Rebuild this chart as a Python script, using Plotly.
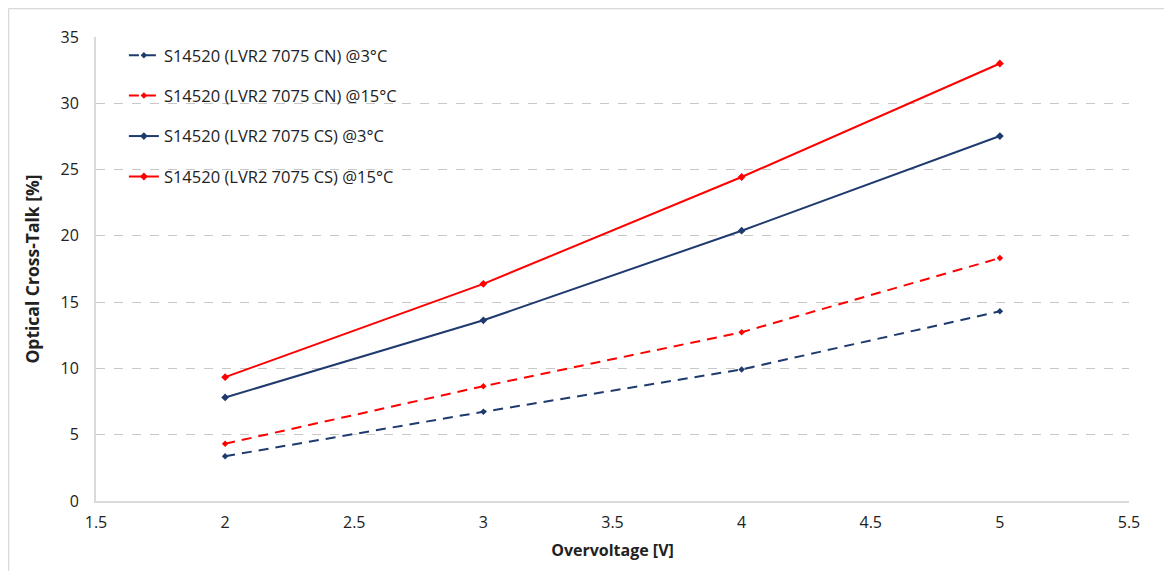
import plotly.graph_objects as go

overvoltage = [2, 3, 4, 5]
cn_3c = [3.38, 6.73, 9.92, 14.31]
cn_15c = [4.32, 8.66, 12.73, 18.33]
cs_3c = [7.81, 13.63, 20.39, 27.53]
cs_15c = [9.34, 16.38, 24.44, 33.0]

names = [
    "S14520 (LVR2 7075 CN) @3°C",
    "S14520 (LVR2 7075 CN) @15°C",
    "S14520 (LVR2 7075 CS) @3°C",
    "S14520 (LVR2 7075 CS) @15°C",
]
x_ticks = [1.5, 2, 2.5, 3, 3.5, 4, 4.5, 5, 5.5]
y_ticks = [0, 5, 10, 15, 20, 25, 30, 35]

NAVY = "#1f3a6e"
RED = "#ff0000"
FONT = "Open Sans, sans-serif"

series = [
    (cn_3c, NAVY, "10px,7px", 5),
    (cn_15c, RED, "10px,7px", 5),
    (cs_3c, NAVY, "solid", 6),
    (cs_15c, RED, "solid", 6),
]

fig = go.Figure()
for i, (vals, color, dash, msize) in enumerate(series):
    fig.add_trace(go.Scatter(
        x=overvoltage, y=vals, name=names[i], mode="lines+markers",
        line=dict(color=color, width=2, dash=dash),
        marker=dict(symbol="diamond", size=msize, color=color),
        legendgroup=f"g{i}",
    ))

L, T, W, H = 88, 29, 1033, 464
fig.update_layout(
    width=1172, height=571,
    margin=dict(l=L, r=1172 - L - W, t=T, b=571 - T - H),
    paper_bgcolor="white", plot_bgcolor="white",
    font=dict(family=FONT, color="#222222"),
    showlegend=True,
    legend=dict(
        x=0.027, y=0.998, xanchor="left", yanchor="top",
        bgcolor="rgba(0,0,0,0)", font=dict(size=16.5, family=FONT, color="#222222"),
        tracegroupgap=16, traceorder="grouped",
    ),
    xaxis=dict(
        range=[1.5, 5.5], tickvals=x_ticks, ticktext=[str(v) for v in x_ticks],
        showgrid=False, showline=True, linecolor="#d9d9d9", linewidth=2,
        ticks="", tickfont=dict(size=16, family=FONT), zeroline=False,
        ticklabelstandoff=6,
        title=dict(text="<b>Overvoltage [V]</b>", font=dict(size=16, family=FONT), standoff=13),
    ),
    yaxis=dict(
        range=[0, 35], tickvals=y_ticks,
        showgrid=True, gridcolor="#c8c8c8", griddash="dash", gridwidth=1,
        showline=True, linecolor="#d9d9d9", linewidth=2,
        ticks="", tickfont=dict(size=16, family=FONT), zeroline=False,
        ticklabelstandoff=12,
        title=dict(text="<b>Optical Cross-Talk [%]</b>", font=dict(size=17.5, family=FONT), standoff=16),
    ),
    shapes=[
        dict(type="line", xref="paper", yref="paper",
             x0=(0.5 - L) / W, x1=(1172 - L) / W,
             y0=1 + (T - 0.5) / H, y1=1 + (T - 0.5) / H,
             line=dict(color="#d9d9d9", width=1.5)),
        dict(type="line", xref="paper", yref="paper",
             x0=(0.5 - L) / W, x1=(0.5 - L) / W,
             y0=1 + (T - 0.5) / H, y1=-(571 - T - H) / H,
             line=dict(color="#d9d9d9", width=1.5)),
    ],
)

fig.write_html("out.html")
